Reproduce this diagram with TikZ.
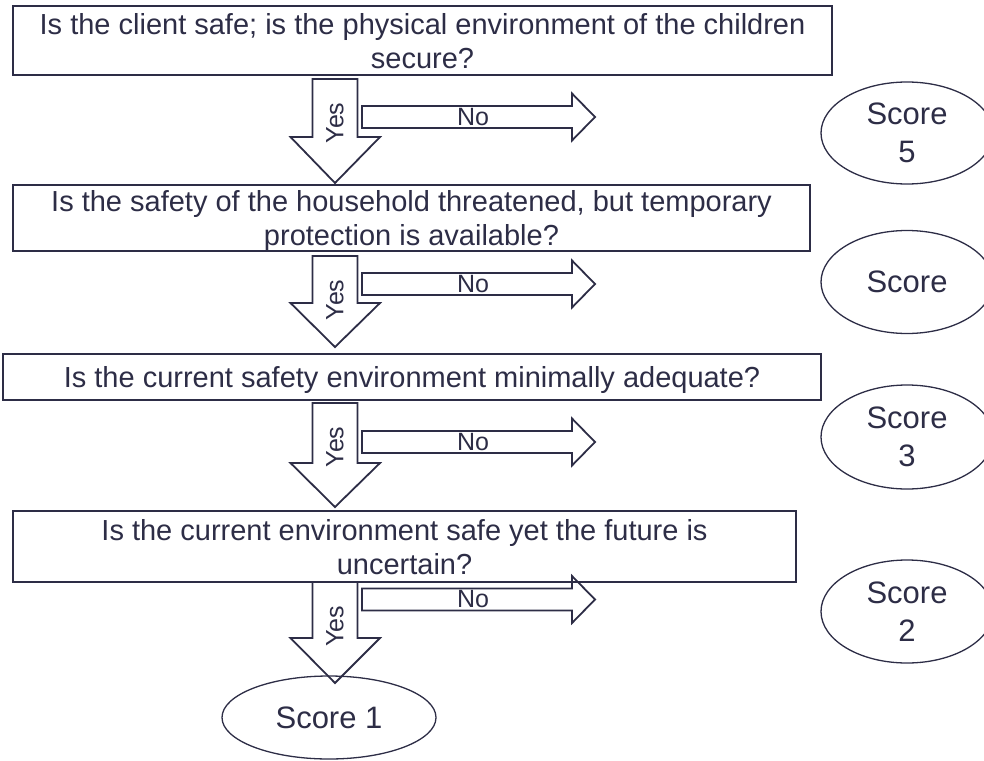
\documentclass[tikz,border=0pt]{standalone}
\usepackage{fontspec}
\setmainfont{Liberation Sans}
\usetikzlibrary{shapes.geometric}
\definecolor{ink}{RGB}{45,45,70}
\begin{document}
\begin{tikzpicture}[x=1pt,y=-1pt,
  question/.style={draw=ink, line width=1.8pt, rectangle, inner sep=0pt,
    align=center, text=ink, text depth=0pt, font=\fontsize{29}{34}\selectfont},
  score/.style={draw=ink, line width=1.3pt, ellipse, inner sep=0pt,
    align=center, text=ink, font=\fontsize{31}{38}\selectfont},
  blockarrow/.style={draw=ink, line width=1.8pt, line join=miter},
  armtext/.style={text=ink, inner sep=0pt, font=\fontsize{25}{30}\selectfont}
]
\useasboundingbox (0,0) rectangle (984,760);
\clip (0,0) rectangle (984,760);

% question boxes
\node[question, minimum width=819pt, minimum height=69pt] (q1) at (422.5,40.5)
  {Is the client safe; is the physical environment of the children\\secure?};
\node[question, minimum width=797pt, minimum height=66pt] (q2) at (411.5,218)
  {Is the safety of the household threatened, but temporary\\protection is available?};
\node[question, minimum width=818pt, minimum height=46pt] (q3) at (412,377)
  {Is the current safety environment minimally adequate?};
\node[question, minimum width=783pt, minimum height=71pt] (q4) at (404.5,546.5)
  {Is the current environment safe yet the future is\\uncertain?};

% score ellipses
\node[score, minimum width=172pt, minimum height=102pt] (s5) at (907,133) {Score\\5};
\node[score, minimum width=172pt, minimum height=103pt] (s4) at (907,282) {Score};
\node[score, minimum width=172pt, minimum height=104pt] (s3) at (907,437) {Score\\3};
\node[score, minimum width=172pt, minimum height=103pt] (s2) at (907,611.5) {Score\\2};
\node[score, minimum width=214pt, minimum height=83pt] (s1) at (329,717.5) {Score 1};

% "Yes" block arrows pointing down: shaft top / head top / tip
\foreach \top/\head/\tip [count=\i] in {79/137/183, 256/303/347, 403/463/507, 582/638/683} {
  \draw[blockarrow] (312.5,\top) -- (357.5,\top) -- (357.5,\head) -- (380,\head)
    -- (335,\tip) -- (290.5,\head) -- (312.5,\head) -- cycle;
  \node[armtext, rotate=90] (yes\i) at (335,\top+44) {Yes};
}

% "No" block arrows pointing right, by centre line
\foreach \cy [count=\i] in {117, 284, 442, 599.5} {
  \draw[blockarrow] (362,\cy-11) -- (572,\cy-11) -- (572,\cy-23.5) -- (595,\cy)
    -- (572,\cy+23.5) -- (572,\cy+11) -- (362,\cy+11) -- cycle;
  \node[armtext] (no\i) at (473,\cy) {No};
}
\end{tikzpicture}
\end{document}
